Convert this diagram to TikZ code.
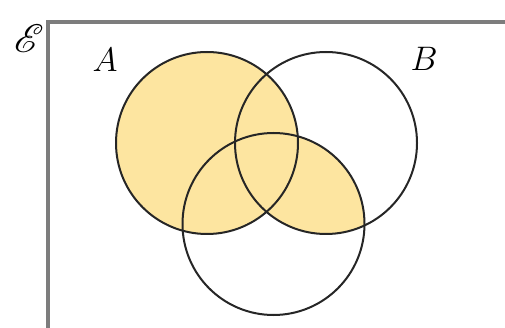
\RequirePackage{fix-cm}
\documentclass[tikz,border=0pt]{standalone}
\usepackage{amsmath,amssymb}
\usepackage{mathrsfs}
\usetikzlibrary{positioning}

\definecolor{setfill}{RGB}{253,229,160}
\definecolor{framegray}{RGB}{125,125,125}
\tikzset{
  setline/.style={line width=2pt,black!85},
  frameline/.style={line width=3.5pt,framegray}
}

\begin{document}
\begin{tikzpicture}[x=1pt,y=-1pt,font=\fontsize{34}{36}\selectfont]
  \useasboundingbox (0,0) rectangle (505,328);
  \coordinate (ca) at (207,143);  \coordinate (cb) at (326,143);
  \coordinate (cc) at (273.5,224);
  % A together with B cap C
  \fill[setfill] (ca) circle (91);
  \begin{scope}
    \clip (cb) circle (91);
    \fill[setfill] (cc) circle (91);
  \end{scope}
  \draw[frameline] (48,330) -- (48,22) -- (507,22);
  \draw[setline] (ca) circle (91);
  \draw[setline] (cb) circle (91);
  \draw[setline] (cc) circle (91);
  \node[scale=1.6] (univ) at (29,39) {$\mathscr{E}$};
  \node (la) at (105,60) {$A$};   \node (lb) at (424,59) {$B$};
\end{tikzpicture}
\end{document}
